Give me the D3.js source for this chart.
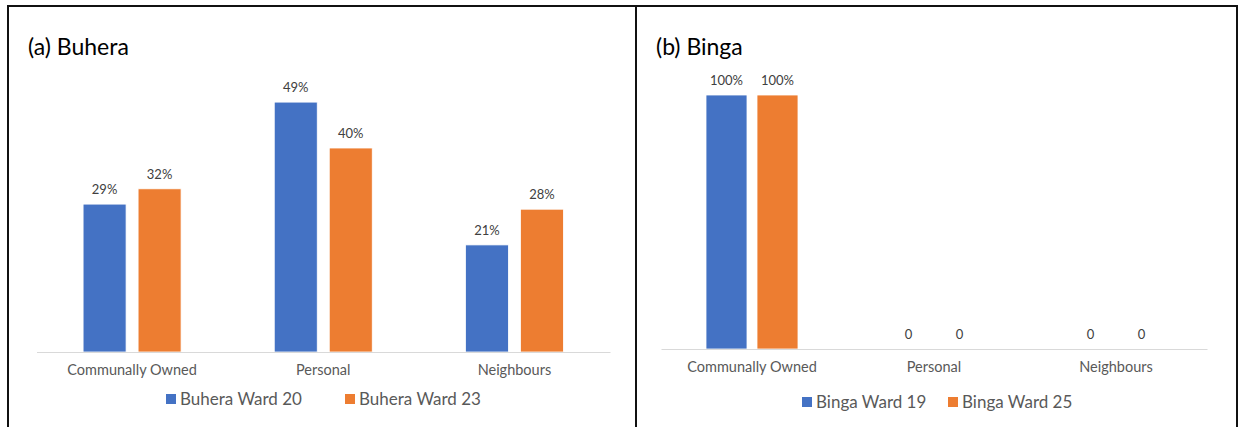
<!DOCTYPE html>
<html>
<head>
<meta charset="utf-8">
<script src="https://cdn.jsdelivr.net/npm/d3@7"></script>
<style>
  html, body { margin: 0; padding: 0; background: #fff; }
  svg { display: block; }
  text { font-family: Lato, "Open Sans", sans-serif; }
</style>
</head>
<body>
<svg id="chart" width="1239" height="427"></svg>
<script>
// ---- data ----
const categories = ["Communally Owned", "Personal", "Neighbours"];

const buheraSeries = ["Buhera Ward 20", "Buhera Ward 23"];
const buheraWard20 = [29, 49, 21];
const buheraWard23 = [32, 40, 28];

const bingaSeries = ["Binga Ward 19", "Binga Ward 25"];
const bingaWard19 = [100, 0, 0];
const bingaWard25 = [100, 0, 0];

const buheraLabels20 = ["29%", "49%", "21%"];
const buheraLabels23 = ["32%", "40%", "28%"];
const bingaLabels19 = ["100%", "0", "0"];
const bingaLabels25 = ["100%", "0", "0"];

const colors = ["#4472C4", "#ED7D31"];

// ---- drawing ----
const svg = d3.select("#chart");

// frame
svg.append("line").attr("x1", 7).attr("x2", 1237).attr("y1", 6).attr("y2", 6)
  .attr("stroke", "#111").attr("stroke-width", 2);
svg.append("line").attr("x1", 8).attr("x2", 8).attr("y1", 5).attr("y2", 427)
  .attr("stroke", "#111").attr("stroke-width", 2);
svg.append("line").attr("x1", 636).attr("x2", 636).attr("y1", 5).attr("y2", 427)
  .attr("stroke", "#111").attr("stroke-width", 2);
svg.append("line").attr("x1", 1237).attr("x2", 1237).attr("y1", 5).attr("y2", 427)
  .attr("stroke", "#111").attr("stroke-width", 2);

function panel(cfg) {
  const g = svg.append("g");
  const x0 = d3.scaleBand().domain(categories).range(cfg.xRange).padding(0);
  const x1 = d3.scaleBand().domain(cfg.series)
    .range([-(cfg.barW + cfg.gap / 2), cfg.barW + cfg.gap / 2])
    .paddingInner(cfg.gap / (cfg.barW + cfg.gap)).paddingOuter(0);
  const y = d3.scaleLinear().domain(cfg.yDomain).range(cfg.yRange);

  // title
  g.append("text").attr("x", cfg.titleX).attr("y", cfg.titleY)
    .attr("font-size", 23).attr("fill", "#000").text(cfg.title);

  const rows = categories.map((c, i) => ({
    cat: c,
    vals: cfg.series.map((s, j) => ({ s, j, v: cfg.values[j][i], lab: cfg.labels[j][i] }))
  }));

  const cg = g.selectAll("g.cat").data(rows).join("g")
    .attr("transform", d => `translate(${x0(d.cat) + x0.bandwidth() / 2},0)`);

  cg.selectAll("rect").data(d => d.vals).join("rect")
    .attr("x", d => x1(d.s))
    .attr("width", x1.bandwidth())
    .attr("y", d => y(d.v))
    .attr("height", d => y(0) - y(d.v))
    .attr("fill", d => colors[d.j])
    .attr("stroke", "#fff").attr("stroke-width", d => d.v > 0 ? 0.8 : 0);

  cg.selectAll("text.lab").data(d => d.vals).join("text")
    .attr("class", "lab")
    .attr("x", d => x1(d.s) + x1.bandwidth() / 2)
    .attr("y", d => y(d.v) - 10)
    .attr("text-anchor", "middle")
    .attr("font-size", 13).attr("fill", "#404040")
    .text(d => d.lab);

  // axis
  const axis = g.append("g").attr("transform", `translate(0,${y(0)})`)
    .call(d3.axisBottom(x0).tickSize(0).tickPadding(13));
  axis.select(".domain").attr("stroke", "#d9d9d9").attr("stroke-width", 1.2);
  axis.selectAll(".tick text").attr("font-size", 14.5).attr("fill", "#595959")
    .attr("font-family", "Lato, 'Open Sans', sans-serif");

  // legend
  const lg = g.append("g");
  cfg.series.forEach((s, j) => {
    lg.append("rect").attr("x", cfg.legendX[j]).attr("y", cfg.legendY - 5)
      .attr("width", 10).attr("height", 10).attr("fill", colors[j]);
    lg.append("text").attr("x", cfg.legendX[j] + 14).attr("y", cfg.legendY)
      .attr("dy", "0.35em").attr("font-size", 17).attr("fill", "#595959").text(s);
  });
}

panel({
  title: "(a) Buhera", titleX: 28, titleY: 55,
  series: buheraSeries,
  values: [buheraWard20, buheraWard23],
  labels: [buheraLabels20, buheraLabels23],
  xRange: [36.5, 610], barW: 43, gap: 12,
  yDomain: [0, 60], yRange: [352, 46],
  legendX: [166, 345], legendY: 399
});

panel({
  title: "(b) Binga", titleX: 656, titleY: 55,
  series: bingaSeries,
  values: [bingaWard19, bingaWard25],
  labels: [bingaLabels19, bingaLabels25],
  xRange: [661, 1207], barW: 41, gap: 10,
  yDomain: [0, 100], yRange: [349, 95],
  legendX: [802, 948], legendY: 402
});
</script>
</body>
</html>
